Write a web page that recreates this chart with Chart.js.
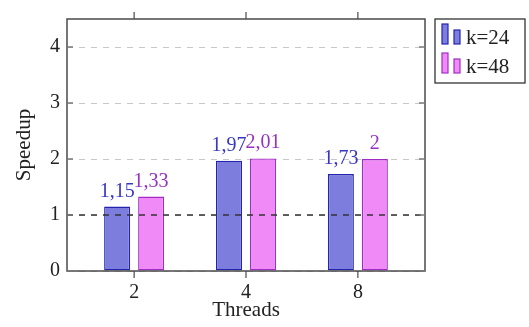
<!DOCTYPE html>
<html>
<head>
<meta charset="utf-8">
<script src="https://cdn.jsdelivr.net/npm/chart.js@4.4.0/dist/chart.umd.min.js"></script>
<style>
  html, body { margin: 0; padding: 0; background: #fff; }
  #wrap { width: 529px; height: 327px; }
</style>
</head>
<body>
<div id="wrap"><canvas id="c" width="529" height="327"></canvas></div>
<script>
// Speedup per thread count for two values of k
const threads = ['2', '4', '8'];
const speedupK24 = [1.15, 1.97, 1.73];
const speedupK48 = [1.33, 2.01, 2];
const seriesLabels = ['k=24', 'k=48'];
const yTicks = [0, 1, 2, 3, 4];
const referenceSpeedup = 1;

const FONT = '"Liberation Serif", "Times New Roman", serif';
const FRAME = '#4a4a4a';
const TEXT = '#222';

const blue = { fill: 'rgb(125,125,222)', line: 'rgb(35,35,175)', text: 'rgb(55,55,195)' };
const pink = { fill: 'rgb(240,138,246)', line: 'rgb(160,45,195)', text: 'rgb(150,50,195)' };
const styles = [blue, pink];

const toPoints = vals => vals.map((v, i) => ({ x: i, y: v }));
const fmt = v => String(v).replace('.', ',');

// Frame, tick marks, x labels, reference line, value labels and legend
const decorations = {
  id: 'decorations',
  afterDatasetsDraw(chart) {
    const { ctx, chartArea: a, scales: { x, y } } = chart;
    ctx.save();

    // reference speedup line
    const yr = y.getPixelForValue(referenceSpeedup);
    ctx.strokeStyle = '#333';
    ctx.lineWidth = 1.5;
    ctx.setLineDash([6, 6]);
    ctx.beginPath();
    ctx.moveTo(a.left, yr);
    ctx.lineTo(a.right, yr);
    ctx.stroke();
    ctx.setLineDash([]);

    // axis frame
    ctx.strokeStyle = FRAME;
    ctx.lineWidth = 1.5;
    ctx.strokeRect(a.left, a.top, a.right - a.left, a.bottom - a.top);

    // y tick marks pointing inward on both sides
    ctx.strokeStyle = '#7a7a7a';
    ctx.beginPath();
    yTicks.forEach(v => {
      const py = y.getPixelForValue(v);
      ctx.moveTo(a.left, py); ctx.lineTo(a.left + 6, py);
      ctx.moveTo(a.right, py); ctx.lineTo(a.right - 6, py);
    });
    ctx.stroke();

    // x tick marks pointing outward top and bottom, with their labels
    ctx.strokeStyle = FRAME;
    ctx.lineWidth = 1.2;
    ctx.beginPath();
    threads.forEach((_, i) => {
      const px = x.getPixelForValue(i);
      ctx.moveTo(px, a.top); ctx.lineTo(px, a.top - 7);
      ctx.moveTo(px, a.bottom); ctx.lineTo(px, a.bottom + 7);
    });
    ctx.stroke();
    ctx.font = '20px ' + FONT;
    ctx.fillStyle = TEXT;
    ctx.textAlign = 'center';
    ctx.textBaseline = 'alphabetic';
    threads.forEach((t, i) => {
      ctx.fillText(t, x.getPixelForValue(i), a.bottom + 27);
    });

    // value labels above each bar
    chart.data.datasets.forEach((ds, di) => {
      const meta = chart.getDatasetMeta(di);
      ctx.fillStyle = styles[di].text;
      meta.data.forEach((bar, i) => {
        ctx.fillText(fmt(ds.data[i].y), bar.x, bar.y - 10);
      });
    });

    // legend box
    const lx = a.right + 10, ly = a.top, lw = 90, lh = 64;
    ctx.fillStyle = '#fff';
    ctx.fillRect(lx, ly, lw, lh);
    ctx.strokeStyle = '#333';
    ctx.lineWidth = 1.3;
    ctx.strokeRect(lx, ly, lw, lh);
    ctx.font = '21px ' + FONT;
    ctx.textAlign = 'left';
    chart.data.datasets.forEach((ds, di) => {
      const base = ly + 25 + di * 29;
      ctx.fillStyle = ds.backgroundColor;
      ctx.strokeStyle = ds.borderColor;
      ctx.lineWidth = 1.2;
      ctx.fillRect(lx + 7, base - 20, 6, 20);
      ctx.strokeRect(lx + 7, base - 20, 6, 20);
      ctx.fillRect(lx + 19, base - 14, 6, 14);
      ctx.strokeRect(lx + 19, base - 14, 6, 14);
      ctx.fillStyle = TEXT;
      ctx.fillText(ds.label, lx + 31, base);
    });

    ctx.restore();
  }
};

const makeDataset = (label, vals, st) => ({
  label,
  data: toPoints(vals),
  backgroundColor: st.fill,
  borderColor: st.line,
  borderWidth: 1.4,
  borderSkipped: false,
  categoryPercentage: 0.6077,
  barPercentage: 0.7647
});

new Chart(document.getElementById('c'), {
  type: 'bar',
  data: {
    datasets: [
      makeDataset(seriesLabels[0], speedupK24, blue),
      makeDataset(seriesLabels[1], speedupK48, pink)
    ]
  },
  options: {
    responsive: false,
    devicePixelRatio: 1,
    animation: false,
    layout: { padding: { top: 9, right: 104, bottom: 0, left: 0 } },
    plugins: { legend: { display: false }, tooltip: { enabled: false } },
    scales: {
      x: {
        type: 'linear',
        min: -0.6,
        max: 2.6,
        offset: false,
        afterBuildTicks: s => { s.ticks = threads.map((_, i) => ({ value: i })); },
        afterFit: s => { s.height = 56; },
        grid: { display: false, offset: false },
        border: { display: false },
        ticks: { display: false },
        title: {
          display: true, text: 'Threads', color: TEXT,
          font: { family: FONT, size: 21 },
          padding: { top: 0, bottom: 4 }
        }
      },
      y: {
        min: 0,
        max: 4.5,
        afterBuildTicks: s => { s.ticks = yTicks.map(v => ({ value: v })); },
        afterFit: s => { s.width = 67; },
        grid: { color: '#c8c8c8', lineWidth: 1, drawTicks: false },
        border: { display: false, dash: [6, 6] },
        ticks: { padding: 7, color: TEXT, font: { family: FONT, size: 20 } },
        title: {
          display: true, text: 'Speedup', color: TEXT,
          font: { family: FONT, size: 21 },
          padding: { top: 12, bottom: 0 }
        }
      }
    }
  },
  plugins: [decorations]
});
</script>
</body>
</html>
